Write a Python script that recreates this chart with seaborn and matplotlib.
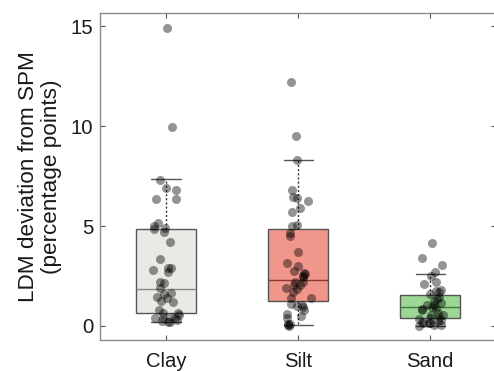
import numpy as np
import pandas as pd
import matplotlib
matplotlib.use("Agg")
import matplotlib.pyplot as plt
import seaborn as sns

# Deviation of LDM from SPM per soil texture class (percentage points)
clay = [14.93, 9.97, 7.3, 6.88, 6.8, 6.35, 6.35, 5.17, 5.0, 4.68, 4.83, 4.9,
        4.2, 3.35, 2.9, 2.9, 2.8, 2.7, 2.18, 2.13, 1.9, 1.67, 1.6, 1.47, 1.42,
        1.22, 1.25, 0.8, 0.63, 0.63, 0.55, 0.47, 0.3, 0.38, 0.42, 0.38, 0.22,
        0.22, 0.27]
silt = [12.22, 9.5, 8.3, 6.8, 6.47, 6.38, 6.25, 5.88, 5.72, 5.02, 5.05, 4.63,
        4.5, 3.72, 3.13, 3.0, 2.77, 2.63, 2.6, 2.43, 2.5, 2.22, 2.22, 2.05,
        2.05, 1.72, 1.83, 1.88, 1.42, 1.42, 1.1, 0.97, 1.05, 0.8, 1.0, 0.52,
        0.58, 0.38, 0.1, 0.0, 0.1, 0.05]
sand = [4.17, 3.42, 3.05, 2.72, 2.5, 2.22, 2.08, 1.8, 1.72, 1.75, 1.6, 1.47,
        1.33, 1.25, 1.13, 1.05, 1.05, 0.97, 0.83, 0.8, 0.88, 0.63, 0.55, 0.47,
        0.55, 0.33, 0.38, 0.3, 0.27, 0.17, 0.13, 0.17, 0.22, 0.0, 0.05, 0.05]

categories = ["Clay", "Silt", "Sand"]
box_q1 = [0.65, 1.25, 0.42]
box_median = [1.85, 2.3, 0.93]
box_q3 = [4.85, 4.85, 1.53]
whisker_low = [0.22, 0.05, 0.0]
whisker_high = [7.35, 8.3, 2.58]

box_colors = ["#EAEAE5", "#F1968A", "#9CD796"]
median_colors = ["#8a8a85", "#8c3a30", "#3f7a3c"]

df = pd.DataFrame({
    "texture": np.repeat(categories, [len(clay), len(silt), len(sand)]),
    "value": clay + silt + sand,
})

sns.set_style("white")
plt.rcParams["font.family"] = ["Liberation Sans", "DejaVu Sans"]

fig = plt.figure(figsize=(4.94, 3.71), dpi=100)
ax = fig.add_axes([0.2024, 0.0836, 0.802, 0.881])

stats = []
for i, name in enumerate(categories):
    stats.append(dict(label=name, q1=box_q1[i], med=box_median[i],
                      q3=box_q3[i], whislo=whisker_low[i],
                      whishi=whisker_high[i], fliers=[]))

parts = ax.bxp(stats, positions=range(len(categories)), widths=0.45,
               capwidths=0.22, patch_artist=True, showfliers=False,
               boxprops=dict(edgecolor="#555555", linewidth=1.0),
               whiskerprops=dict(color="#333333", linewidth=1.0,
                                 linestyle=(0, (1.5, 1.5))),
               capprops=dict(color="#555555", linewidth=1.0),
               medianprops=dict(linewidth=1.0), zorder=1)
for patch, fc in zip(parts["boxes"], box_colors):
    patch.set_facecolor(fc)
for med, mc in zip(parts["medians"], median_colors):
    med.set_color(mc)

np.random.seed(3)
sns.stripplot(data=df, x="texture", y="value", order=categories,
              jitter=0.1, color="black", alpha=0.42, size=6.5,
              linewidth=0, ax=ax, zorder=3)

ax.set_xlim(-0.5, 2.5)
ax.set_ylim(-0.7, 15.65)
ax.set_yticks([0, 5, 10, 15])
ax.set_xticks(range(len(categories)))
ax.set_xticklabels(categories)
ax.set_xlabel("")
ax.set_ylabel("LDM deviation from SPM\n(percentage points)", fontsize=16.2,
              labelpad=6, linespacing=1.1, color="#1a1a1a")

for side in ["left", "right", "top", "bottom"]:
    ax.spines[side].set_visible(True)
    ax.spines[side].set_color("#8a8a8a")
    ax.spines[side].set_linewidth(1.0)
ax.tick_params(axis="both", which="both", direction="in", length=3.5,
               width=0.8, color="#555555", top=True, right=True,
               bottom=True, left=True, labelsize=14.6, labelcolor="#1a1a1a")
ax.tick_params(axis="y", pad=5)
ax.tick_params(axis="x", pad=9)

fig.savefig("out.png", dpi=100)
